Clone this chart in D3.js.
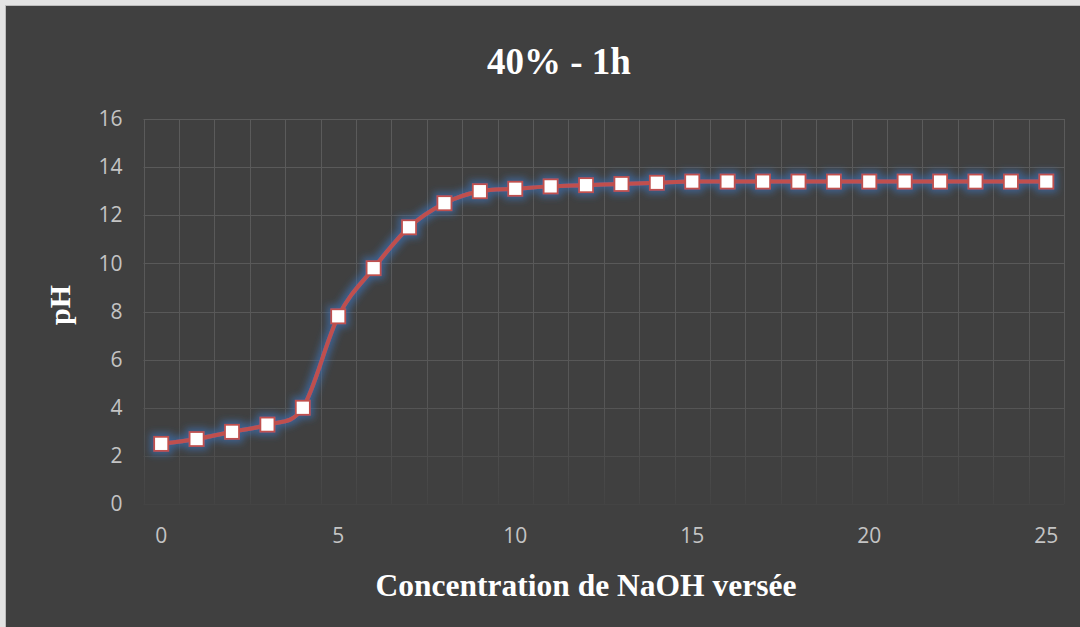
<!DOCTYPE html>
<html>
<head>
<meta charset="utf-8">
<script src="https://cdn.jsdelivr.net/npm/d3@7"></script>
<style>
  html, body { margin: 0; padding: 0; background: #e3e3e3; overflow: hidden; }
  svg { display: block; }
</style>
</head>
<body>
<svg id="chart" width="1080" height="627"></svg>
<script>
// Volume of NaOH added (category axis)
const volumes = [0, 1, 2, 3, 4, 5, 6, 7, 8, 9, 10, 11, 12, 13, 14, 15, 16, 17, 18, 19, 20, 21, 22, 23, 24, 25];
// Measured pH for each addition
const phValues = [2.5, 2.7, 3.0, 3.3, 4.0, 7.8, 9.8, 11.5, 12.5, 13.0, 13.1, 13.2, 13.25, 13.3, 13.35, 13.4, 13.4, 13.4, 13.4, 13.4, 13.4, 13.4, 13.4, 13.4, 13.4, 13.4];
const yTicks = [0, 2, 4, 6, 8, 10, 12, 14, 16];
const xTickLabels = [0, 5, 10, 15, 20, 25];

const titleText = "40% - 1h";
const xTitle = "Concentration de NaOH versée";
const yTitle = "pH";

const W = 1080, H = 627;
const plot = { left: 143.5, right: 1064, top: 119, bottom: 504 };

const svg = d3.select("#chart");
const defs = svg.append("defs");

// Gridlines fade out toward the bottom of the plot area
const grad = defs.append("linearGradient")
  .attr("id", "gridFade")
  .attr("gradientUnits", "userSpaceOnUse")
  .attr("x1", 0).attr("x2", 0)
  .attr("y1", plot.top).attr("y2", plot.bottom);
grad.append("stop").attr("offset", 0).attr("stop-color", "#5b5b5b");
grad.append("stop").attr("offset", 0.72).attr("stop-color", "#575757");
grad.append("stop").attr("offset", 1).attr("stop-color", "#444444");

// Soft blue outer glow around the series
const glow = defs.append("filter")
  .attr("id", "glow")
  .attr("filterUnits", "userSpaceOnUse")
  .attr("x", 100).attr("y", 100)
  .attr("width", 1000).attr("height", 400);
glow.append("feMorphology").attr("in", "SourceAlpha").attr("operator", "dilate").attr("radius", 2.5).attr("result", "thick");
glow.append("feGaussianBlur").attr("in", "thick").attr("stdDeviation", 3.5).attr("result", "blur");
glow.append("feFlood").attr("flood-color", "#3d6fae").attr("flood-opacity", 0.7).attr("result", "col");
glow.append("feComposite").attr("in", "col").attr("in2", "blur").attr("operator", "in").attr("result", "halo");
const merge = glow.append("feMerge");
merge.append("feMergeNode").attr("in", "halo");
merge.append("feMergeNode").attr("in", "SourceGraphic");

// Chart background
svg.append("rect")
  .attr("x", 5).attr("y", 5)
  .attr("width", W - 5).attr("height", H - 5)
  .attr("fill", "#404040");
svg.append("line")
  .attr("x1", 5).attr("x2", W).attr("y1", 5.5).attr("y2", 5.5)
  .attr("stroke", "#bdbdbd").attr("stroke-width", 1);
svg.append("line")
  .attr("x1", 5.5).attr("x2", 5.5).attr("y1", 5).attr("y2", H)
  .attr("stroke", "#bdbdbd").attr("stroke-width", 1);

// Scales
const x = d3.scaleBand().domain(volumes).range([plot.left, plot.right]).paddingInner(0).paddingOuter(0);
const cx = v => x(v) + x.bandwidth() / 2;
const y = d3.scaleLinear().domain([0, 16]).range([plot.bottom, plot.top]);

// Gridlines
const grid = svg.append("g").attr("stroke", "url(#gridFade)").attr("stroke-width", 1);
grid.selectAll("line.h")
  .data(yTicks)
  .join("line")
  .attr("class", "h")
  .attr("x1", plot.left).attr("x2", plot.right)
  .attr("y1", d => Math.round(y(d)) + 0.5).attr("y2", d => Math.round(y(d)) + 0.5);
const edges = volumes.map(v => x(v)).concat([x(volumes[volumes.length - 1]) + x.bandwidth()]);
grid.selectAll("line.v")
  .data(edges)
  .join("line")
  .attr("class", "v")
  .attr("x1", d => Math.round(d) + 0.5).attr("x2", d => Math.round(d) + 0.5)
  .attr("y1", plot.top).attr("y2", plot.bottom);

// Axes
const tickFont = "'Open Sans', 'Noto Sans', sans-serif";
const yAxis = svg.append("g")
  .attr("transform", `translate(${plot.left},0)`)
  .call(d3.axisLeft(y).tickValues(yTicks).tickSize(0).tickPadding(21));
const xAxis = svg.append("g")
  .attr("transform", `translate(0,${plot.bottom})`)
  .call(d3.axisBottom(x).tickValues(xTickLabels).tickSize(0).tickPadding(24));
[yAxis, xAxis].forEach(g => {
  g.select(".domain").remove();
  g.selectAll("text")
    .attr("fill", "#c4c4c4")
    .style("font-family", tickFont)
    .style("font-size", "21px");
});

// Series: smoothed line with square markers
const series = svg.append("g").attr("filter", "url(#glow)");
const data = volumes.map((v, i) => ({ v, ph: phValues[i] }));
const line = d3.line()
  .x(d => cx(d.v))
  .y(d => y(d.ph))
  .curve(d3.curveCatmullRom.alpha(0));
series.append("path")
  .datum(data)
  .attr("d", line)
  .attr("fill", "none")
  .attr("stroke", "#c0504d")
  .attr("stroke-width", 4)
  .attr("stroke-linejoin", "round");
const ms = 14;
series.selectAll("rect.marker")
  .data(data)
  .join("rect")
  .attr("class", "marker")
  .attr("x", d => cx(d.v) - ms / 2)
  .attr("y", d => y(d.ph) - ms / 2)
  .attr("width", ms).attr("height", ms)
  .attr("fill", "#ffffff")
  .attr("stroke", "#c0504d")
  .attr("stroke-width", 1.75);

// Titles
const serif = "'Times New Roman', 'Liberation Serif', serif";
svg.append("text")
  .attr("x", 559).attr("y", 74)
  .attr("text-anchor", "middle")
  .attr("fill", "#ffffff")
  .style("font-family", serif).style("font-weight", "bold").style("font-size", "37px")
  .text(titleText);
svg.append("text")
  .attr("x", 586).attr("y", 596)
  .attr("text-anchor", "middle")
  .attr("fill", "#ffffff")
  .style("font-family", serif).style("font-weight", "bold").style("font-size", "31.5px")
  .text(xTitle);
svg.append("text")
  .attr("transform", "translate(70,305) rotate(-90)")
  .attr("text-anchor", "middle")
  .attr("fill", "#ffffff")
  .style("font-family", serif).style("font-weight", "bold").style("font-size", "30px")
  .text(yTitle);
</script>
</body>
</html>
